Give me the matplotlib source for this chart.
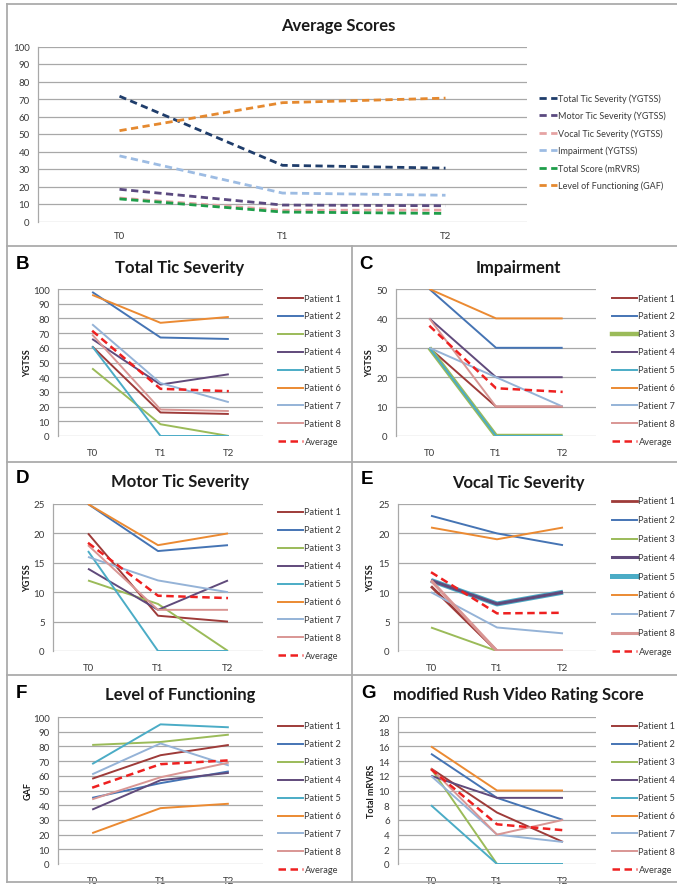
import matplotlib
matplotlib.use("Agg")
from matplotlib import pyplot as plt
from matplotlib.lines import Line2D
import numpy as np

plt.rcParams['font.family'] = ['Lato', 'DejaVu Sans']

W, H = 677, 887

times = ["T0", "T1", "T2"]
patients = ["Patient 1", "Patient 2", "Patient 3", "Patient 4",
            "Patient 5", "Patient 6", "Patient 7", "Patient 8"]

# YGTSS total tic severity (0-100)
tts = [[61, 16, 15], [98, 67, 66], [46, 8, 0], [66, 35, 42],
       [61, 0, 0], [96, 77, 81], [76, 36, 23], [69, 18, 17]]
tts_avg = [71.6, 32.1, 30.5]

# YGTSS impairment (0-50)
imp = [[30, 10, 10], [50, 30, 30], [30, 0, 0], [40, 20, 20],
       [30, 0, 0], [50, 40, 40], [30, 20, 10], [40, 10, 10]]
imp_avg = [37.5, 16.25, 15.0]

# YGTSS motor tic severity (0-25)
motor = [[20, 6, 5], [25, 17, 18], [12, 8, 0], [14, 7, 12],
         [17, 0, 0], [25, 18, 20], [16, 12, 10], [18, 7, 7]]
motor_avg = [18.4, 9.4, 9.0]

# YGTSS vocal tic severity (0-25)
vocal = [[11, 0, 0], [23, 20, 18], [4, 0, 0], [12, 8, 10],
         [12, 8, 10], [21, 19, 21], [10, 4, 3], [12, 0, 0]]
vocal_avg = [13.4, 6.4, 6.5]

# GAF (0-100)
gaf = [[58, 74, 81], [45, 55, 63], [81, 83, 88], [37, 57, 62],
       [68, 95, 93], [21, 38, 41], [61, 82, 67], [44, 59, 69]]
gaf_avg = [51.9, 67.9, 70.5]

# modified Rush Video Rating Scale total (0-20)
mrvrs = [[13, 7, 3], [15, 9, 6], [13, 0, 0], [12, 9, 9],
         [8, 0, 0], [16, 10, 10], [12, 4, 3], [13, 4, 6]]
mrvrs_avg = [12.9, 5.4, 4.6]

avg_labels = ["Total Tic Severity (YGTSS)", "Motor Tic Severity (YGTSS)",
              "Vocal Tic Severity (YGTSS)", "Impairment (YGTSS)",
              "Total Score (mRVRS)", "Level of Functioning (GAF)"]
avg_series = [tts_avg, motor_avg, vocal_avg, imp_avg, mrvrs_avg, gaf_avg]
avg_colors = ['#1F3D6B', '#5B4A80', '#E6A3A3', '#9DBCE3', '#1E9E4A', '#E5892F']

pat_colors = ['#9E3B39', '#4574B4', '#9BBB59', '#604A7B',
              '#4BACC6', '#EB8A32', '#95B3D7', '#D99694']
avg_color = '#EE2020'
grid_c = '#A8A8A8'
txt_c = '#3A3A3A'


def fx(x):
    return x / W


def fy(y):
    return 1 - y / H


def axes_px(x0, y0, x1, y1):
    return fig.add_axes([x0 / W, 1 - y1 / H, (x1 - x0) / W, (y1 - y0) / H])


def style_axes(ax, ymax, ystep, xpad):
    ax.set_xlim(-0.5, 2.5)
    ax.set_ylim(0, ymax)
    ax.set_yticks(np.arange(0, ymax + 0.1, ystep))
    ax.set_xticks(range(3))
    ax.set_xticklabels(times)
    ax.grid(axis='y', color=grid_c, lw=0.9)
    ax.set_axisbelow(True)
    for s in ['top', 'right', 'bottom']:
        ax.spines[s].set_visible(False)
    ax.spines['left'].set_color(grid_c)
    ax.spines['left'].set_linewidth(0.9)
    ax.tick_params(axis='both', length=0, labelsize=7, colors=txt_c)
    ax.tick_params(axis='y', pad=6)
    ax.tick_params(axis='x', pad=xpad)


def legend_px(entries, x, y0, dy, fs=6.7, hl=25):
    for i, (lab, col, lw, ls) in enumerate(entries):
        y = y0 + i * dy
        fig.add_artist(Line2D([fx(x), fx(x + hl)], [fy(y), fy(y)],
                              color=col, lw=lw, ls=ls))
        fig.text(fx(x + hl + 1.5), fy(y), lab, va='center', ha='left',
                 fontsize=fs, color=txt_c)


def panel(box, letter, letter_xy, title, title_xy, data, avg, ymax, ystep,
          ylabel, ylabel_x, leg_x, leg_y0, leg_dy, widths=None, zorders=None):
    widths = widths or {}
    zorders = zorders or {}
    ax = axes_px(*box)
    entries = []
    for i, vals in enumerate(data):
        lw = widths.get(i, 1.4)
        ax.plot(range(3), vals, color=pat_colors[i], lw=lw,
                zorder=zorders.get(i, 2 + i * 0.01), solid_capstyle='butt')
        entries.append((patients[i], pat_colors[i], lw, '-'))
    ax.plot(range(3), avg, color=avg_color, lw=1.8, dashes=(3, 1.8), zorder=3)
    entries.append(("Average", avg_color, 1.8, (0, (3, 1.8))))
    style_axes(ax, ymax, ystep, 9)
    fig.text(fx(letter_xy[0]), fy(letter_xy[1]), letter, fontsize=13.5,
             fontweight='bold', family='Liberation Sans', ha='left', va='center')
    fig.text(fx(title_xy[0]), fy(title_xy[1]), title, fontsize=12,
             fontweight='bold', ha='center', va='center', color='#1A1A1A')
    fig.text(fx(ylabel_x), fy((box[1] + box[3]) / 2), ylabel, rotation=90,
             fontsize=6.5, fontweight='bold', ha='center', va='center', color='#1A1A1A')
    legend_px(entries, leg_x, leg_y0, leg_dy)
    return ax


fig = plt.figure(figsize=(W / 100, H / 100), dpi=100)

# panel frames (right edge of the original is cropped)
fc = '#ABABAB'
frame = [((7, 5), (677, 5)), ((7, 883), (677, 883)), ((7, 5), (7, 883)),
         ((7, 247), (677, 247)), ((7, 463), (677, 463)),
         ((7, 676), (677, 676)), ((352, 247), (352, 883))]
for (xa, ya), (xb, yb) in frame:
    fig.add_artist(Line2D([fx(xa), fx(xb)], [fy(ya), fy(yb)], color=fc, lw=1.3))

# A: average scores
ax0 = axes_px(38, 47.5, 527, 222.5)
for vals, col in zip(avg_series, avg_colors):
    ax0.plot(range(3), vals, color=col, lw=2.0, dashes=(2.6, 1.6))
style_axes(ax0, 100, 10, 7)
fig.text(fx(338), fy(26), "Average Scores", fontsize=12, fontweight='bold',
         ha='center', va='center', color='#1A1A1A')
legend_px([(l, c, 2.0, (0, (2.6, 1.6))) for l, c in zip(avg_labels, avg_colors)],
          539, 99, 17.4, fs=6.5, hl=18)

panel((58, 290, 263, 437), "B", (16, 265), "Total Tic Severity", (180, 268),
      tts, tts_avg, 100, 10, "YGTSS", 28, 278, 299, 17.9)
panel((396, 290, 596, 437), "C", (359, 265), "Impairment", (518, 268),
      imp, imp_avg, 50, 10, "YGTSS", 370, 612, 299, 17.9, widths={2: 3.2})
panel((53, 505, 263, 652), "D", (16, 479), "Motor Tic Severity", (180, 482),
      motor, motor_avg, 25, 5, "YGTSS", 28, 278, 513, 17.9)
panel((398, 505, 596, 652), "E", (361, 480), "Vocal Tic Severity", (518, 483),
      vocal, vocal_avg, 25, 5, "YGTSS", 371, 612, 502, 18.8,
      widths={0: 2.0, 3: 2.2, 4: 3.6, 7: 2.2}, zorders={4: 1.9})
panel((58, 718, 263, 865), "F", (16, 693), "Level of Functioning", (180, 695),
      gaf, gaf_avg, 100, 10, "GAF", 28, 278, 727, 17.9)
panel((398, 718, 596, 865), "G", (361, 693), "modified Rush Video Rating Score",
      (518, 695), mrvrs, mrvrs_avg, 20, 2, "Total mRVRS", 371, 612, 727, 17.9)

fig.savefig("out.png", dpi=100)
